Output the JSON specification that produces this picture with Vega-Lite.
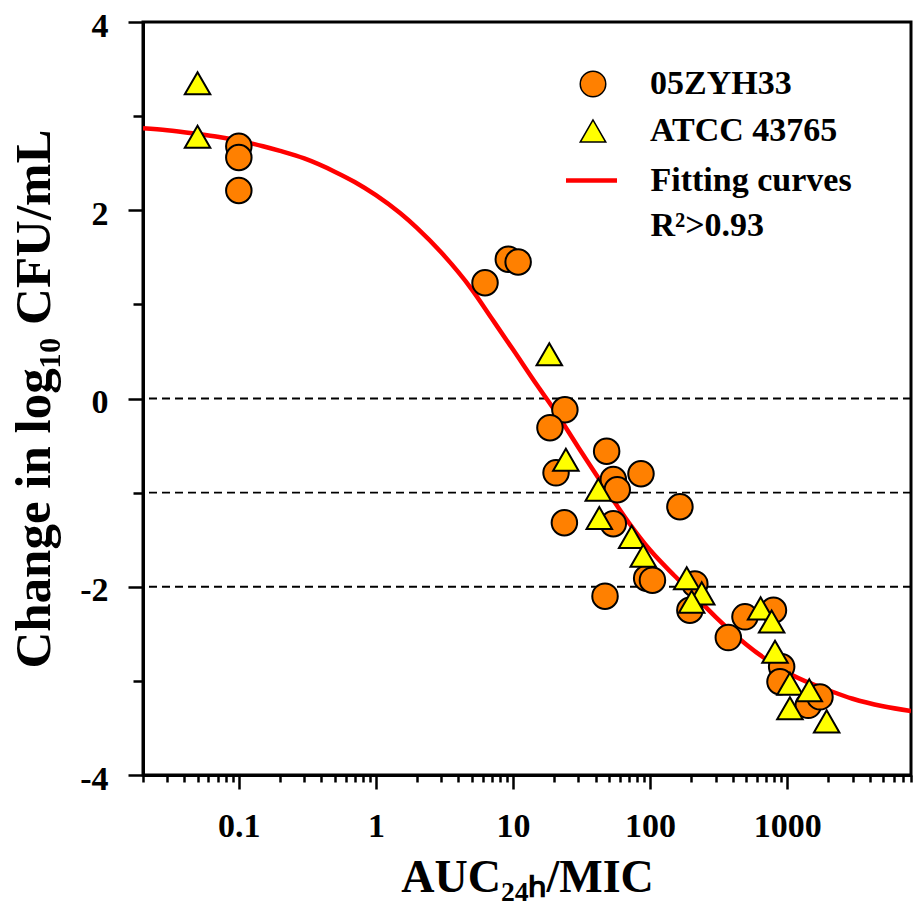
{
  "$schema": "https://vega.github.io/schema/vega-lite/v6.json",
  "width": 768,
  "height": 753,
  "autosize": "none",
  "padding": {"left": 143, "top": 22, "right": 2, "bottom": 128},
  "background": "white",
  "config": {
    "view": {"stroke": "black", "strokeWidth": 3},
    "axis": {
      "labelFont": "Liberation Serif", "labelFontWeight": "bold", "labelFontSize": 34, "labelColor": "black",
      "titleFont": "Liberation Serif", "titleFontWeight": "bold", "titleFontSize": 44, "titleColor": "black",
      "domainColor": "black", "domainWidth": 3, "tickColor": "black", "tickWidth": 2.5, "grid": false
    },
    "axisX": {"titleFontSize": 46, "labelPadding": 20, "titlePadding": 12},
    "axisY": {"titleFontSize": 51, "labelPadding": 20, "labelOffset": 4, "titlePadding": 19},
    "legend": {
      "labelFont": "Liberation Serif", "labelFontWeight": "bold", "labelFontSize": 34, "labelColor": "black",
      "padding": 0, "rowPadding": 13, "labelLimit": 400
    }
  },
  "datasets": {
    "points": [
      {"x": 0.1, "y": 2.68, "strain": "05ZYH33"},
      {"x": 0.1, "y": 2.56, "strain": "05ZYH33"},
      {"x": 0.1, "y": 2.21, "strain": "05ZYH33"},
      {"x": 6.25, "y": 1.23, "strain": "05ZYH33"},
      {"x": 9.24, "y": 1.48, "strain": "05ZYH33"},
      {"x": 10.9, "y": 1.45, "strain": "05ZYH33"},
      {"x": 23.9, "y": -0.12, "strain": "05ZYH33"},
      {"x": 18.6, "y": -0.31, "strain": "05ZYH33"},
      {"x": 20.6, "y": -0.79, "strain": "05ZYH33"},
      {"x": 48.2, "y": -0.56, "strain": "05ZYH33"},
      {"x": 53.9, "y": -0.86, "strain": "05ZYH33"},
      {"x": 57.6, "y": -0.97, "strain": "05ZYH33"},
      {"x": 85.8, "y": -0.8, "strain": "05ZYH33"},
      {"x": 23.7, "y": -1.32, "strain": "05ZYH33"},
      {"x": 53.9, "y": -1.33, "strain": "05ZYH33"},
      {"x": 94.4, "y": -1.91, "strain": "05ZYH33"},
      {"x": 104, "y": -1.93, "strain": "05ZYH33"},
      {"x": 46.9, "y": -2.1, "strain": "05ZYH33"},
      {"x": 165, "y": -1.15, "strain": "05ZYH33"},
      {"x": 212, "y": -1.97, "strain": "05ZYH33"},
      {"x": 195, "y": -2.25, "strain": "05ZYH33"},
      {"x": 372, "y": -2.54, "strain": "05ZYH33"},
      {"x": 492, "y": -2.32, "strain": "05ZYH33"},
      {"x": 794, "y": -2.25, "strain": "05ZYH33"},
      {"x": 911, "y": -2.85, "strain": "05ZYH33"},
      {"x": 886, "y": -3.01, "strain": "05ZYH33"},
      {"x": 1425, "y": -3.26, "strain": "05ZYH33"},
      {"x": 1734, "y": -3.17, "strain": "05ZYH33"},
      {"x": 0.05, "y": 3.35, "strain": "ATCC 43765"},
      {"x": 0.05, "y": 2.78, "strain": "ATCC 43765"},
      {"x": 18.4, "y": 0.47, "strain": "ATCC 43765"},
      {"x": 24.3, "y": -0.65, "strain": "ATCC 43765"},
      {"x": 41.9, "y": -0.97, "strain": "ATCC 43765"},
      {"x": 42.6, "y": -1.27, "strain": "ATCC 43765"},
      {"x": 73.4, "y": -1.47, "strain": "ATCC 43765"},
      {"x": 89.1, "y": -1.67, "strain": "ATCC 43765"},
      {"x": 185, "y": -1.91, "strain": "ATCC 43765"},
      {"x": 238, "y": -2.07, "strain": "ATCC 43765"},
      {"x": 201, "y": -2.16, "strain": "ATCC 43765"},
      {"x": 640, "y": -2.23, "strain": "ATCC 43765"},
      {"x": 770, "y": -2.37, "strain": "ATCC 43765"},
      {"x": 815, "y": -2.69, "strain": "ATCC 43765"},
      {"x": 1047, "y": -3.03, "strain": "ATCC 43765"},
      {"x": 1047, "y": -3.29, "strain": "ATCC 43765"},
      {"x": 1449, "y": -3.1, "strain": "ATCC 43765"},
      {"x": 1941, "y": -3.43, "strain": "ATCC 43765"}
    ],
    "curve": [
      {"x": 0.02, "y": 2.87, "series": "Fitting curves"},
      {"x": 0.03, "y": 2.85, "series": "Fitting curves"},
      {"x": 0.05, "y": 2.81, "series": "Fitting curves"},
      {"x": 0.07, "y": 2.78, "series": "Fitting curves"},
      {"x": 0.1, "y": 2.74, "series": "Fitting curves"},
      {"x": 0.15, "y": 2.68, "series": "Fitting curves"},
      {"x": 0.2, "y": 2.63, "series": "Fitting curves"},
      {"x": 0.3, "y": 2.55, "series": "Fitting curves"},
      {"x": 0.5, "y": 2.41, "series": "Fitting curves"},
      {"x": 0.7, "y": 2.3, "series": "Fitting curves"},
      {"x": 1, "y": 2.16, "series": "Fitting curves"},
      {"x": 1.5, "y": 1.97, "series": "Fitting curves"},
      {"x": 2, "y": 1.81, "series": "Fitting curves"},
      {"x": 3, "y": 1.55, "series": "Fitting curves"},
      {"x": 5, "y": 1.16, "series": "Fitting curves"},
      {"x": 7, "y": 0.85, "series": "Fitting curves"},
      {"x": 10, "y": 0.52, "series": "Fitting curves"},
      {"x": 15, "y": 0.14, "series": "Fitting curves"},
      {"x": 20, "y": -0.12, "series": "Fitting curves"},
      {"x": 30, "y": -0.52, "series": "Fitting curves"},
      {"x": 50, "y": -1.01, "series": "Fitting curves"},
      {"x": 70, "y": -1.32, "series": "Fitting curves"},
      {"x": 100, "y": -1.61, "series": "Fitting curves"},
      {"x": 150, "y": -1.88, "series": "Fitting curves"},
      {"x": 200, "y": -2.06, "series": "Fitting curves"},
      {"x": 300, "y": -2.32, "series": "Fitting curves"},
      {"x": 500, "y": -2.61, "series": "Fitting curves"},
      {"x": 700, "y": -2.77, "series": "Fitting curves"},
      {"x": 1000, "y": -2.91, "series": "Fitting curves"},
      {"x": 1500, "y": -3.03, "series": "Fitting curves"},
      {"x": 2000, "y": -3.1, "series": "Fitting curves"},
      {"x": 3000, "y": -3.19, "series": "Fitting curves"},
      {"x": 5000, "y": -3.27, "series": "Fitting curves"},
      {"x": 8000, "y": -3.32, "series": "Fitting curves"}
    ],
    "refs": [{"y": 0}, {"y": -1}, {"y": -2}]
  },
  "layer": [
    {
      "data": {"name": "refs"},
      "mark": {"type": "rule", "stroke": "black", "strokeWidth": 1.8, "strokeDash": [8, 5]},
      "encoding": {
        "y": {
          "field": "y", "type": "quantitative",
          "scale": {"domain": [-4, 4], "nice": false, "zero": false},
          "axis": {
            "title": "Change in log₁₀ CFU/mL",
            "values": [-4, -3, -2, -1, 0, 1, 2, 3, 4],
            "labelExpr": "datum.value % 2 === 0 ? '' + datum.value : ''",
            "tickSize": {"condition": {"test": "datum.value % 2 === 0", "value": 15}, "value": 10},
            "labelFlush": false, "labelOverlap": false
          }
        }
      }
    },
    {
      "data": {"name": "curve"},
      "mark": {"type": "line", "strokeWidth": 4.5, "interpolate": "monotone", "clip": true},
      "encoding": {
        "x": {
          "field": "x", "type": "quantitative",
          "scale": {"type": "log", "domain": [0.02, 8000], "nice": false},
          "axis": {
            "title": "AUC₂₄ₕ/MIC",
            "values": [0.02, 0.03, 0.04, 0.05, 0.06, 0.07, 0.08, 0.09, 0.1, 0.2, 0.3, 0.4, 0.5, 0.6, 0.7, 0.8, 0.9, 1, 2, 3, 4, 5, 6, 7, 8, 9, 10, 20, 30, 40, 50, 60, 70, 80, 90, 100, 200, 300, 400, 500, 600, 700, 800, 900, 1000, 2000, 3000, 4000, 5000, 6000, 7000, 8000],
            "labelExpr": "indexof([0.1, 1, 10, 100, 1000], datum.value) >= 0 ? '' + datum.value : ''",
            "tickSize": {"condition": {"test": "indexof([0.1, 1, 10, 100, 1000], datum.value) >= 0", "value": 14}, "value": 7},
            "labelFlush": false, "labelOverlap": false
          }
        },
        "y": {
          "field": "y", "type": "quantitative",
          "scale": {"domain": [-4, 4], "nice": false, "zero": false},
          "axis": {
            "title": "Change in log₁₀ CFU/mL",
            "values": [-4, -3, -2, -1, 0, 1, 2, 3, 4],
            "labelExpr": "datum.value % 2 === 0 ? '' + datum.value : ''",
            "tickSize": {"condition": {"test": "datum.value % 2 === 0", "value": 15}, "value": 10},
            "labelFlush": false, "labelOverlap": false
          }
        },
        "stroke": {
          "field": "series", "type": "nominal",
          "scale": {"domain": ["Fitting curves", "R²>0.93"], "range": ["#FF0000", "rgba(0,0,0,0)"]},
          "legend": {"title": null, "orient": "none", "legendX": 420.5, "legendY": 130.5, "rowPadding": -4, "symbolType": "stroke", "symbolSize": 2601, "symbolStrokeWidth": 4.5, "labelOffset": 31}
        }
      }
    },
    {
      "data": {"name": "points"},
      "mark": {"type": "point", "filled": true, "opacity": 1, "stroke": "black", "strokeWidth": 2, "size": 650},
      "encoding": {
        "x": {
          "field": "x", "type": "quantitative",
          "scale": {"type": "log", "domain": [0.02, 8000], "nice": false},
          "axis": {
            "title": "AUC₂₄ₕ/MIC",
            "values": [0.02, 0.03, 0.04, 0.05, 0.06, 0.07, 0.08, 0.09, 0.1, 0.2, 0.3, 0.4, 0.5, 0.6, 0.7, 0.8, 0.9, 1, 2, 3, 4, 5, 6, 7, 8, 9, 10, 20, 30, 40, 50, 60, 70, 80, 90, 100, 200, 300, 400, 500, 600, 700, 800, 900, 1000, 2000, 3000, 4000, 5000, 6000, 7000, 8000],
            "labelExpr": "indexof([0.1, 1, 10, 100, 1000], datum.value) >= 0 ? '' + datum.value : ''",
            "tickSize": {"condition": {"test": "indexof([0.1, 1, 10, 100, 1000], datum.value) >= 0", "value": 14}, "value": 7},
            "labelFlush": false, "labelOverlap": false
          }
        },
        "y": {
          "field": "y", "type": "quantitative",
          "scale": {"domain": [-4, 4], "nice": false, "zero": false},
          "axis": {
            "title": "Change in log₁₀ CFU/mL",
            "values": [-4, -3, -2, -1, 0, 1, 2, 3, 4],
            "labelExpr": "datum.value % 2 === 0 ? '' + datum.value : ''",
            "tickSize": {"condition": {"test": "datum.value % 2 === 0", "value": 15}, "value": 10},
            "labelFlush": false, "labelOverlap": false
          }
        },
        "shape": {
          "field": "strain", "type": "nominal",
          "scale": {"domain": ["05ZYH33", "ATCC 43765"], "range": ["circle", "triangle-up"]},
          "legend": {"title": null, "orient": "none", "legendX": 433, "legendY": 45, "symbolSize": 650, "labelOffset": 40,
            "encode": {"symbols": {"update": {"stroke": {"value": "black"}, "strokeWidth": {"value": 2}, "opacity": {"value": 1}}}}}
        },
        "fill": {
          "field": "strain", "type": "nominal",
          "scale": {"domain": ["05ZYH33", "ATCC 43765"], "range": ["#FF8000", "#FFFF00"]},
          "legend": {"title": null, "orient": "none", "legendX": 433, "legendY": 45, "symbolSize": 650, "labelOffset": 40,
            "encode": {"symbols": {"update": {"stroke": {"value": "black"}, "strokeWidth": {"value": 2}, "opacity": {"value": 1}}}}}
        }
      }
    }
  ]
}
